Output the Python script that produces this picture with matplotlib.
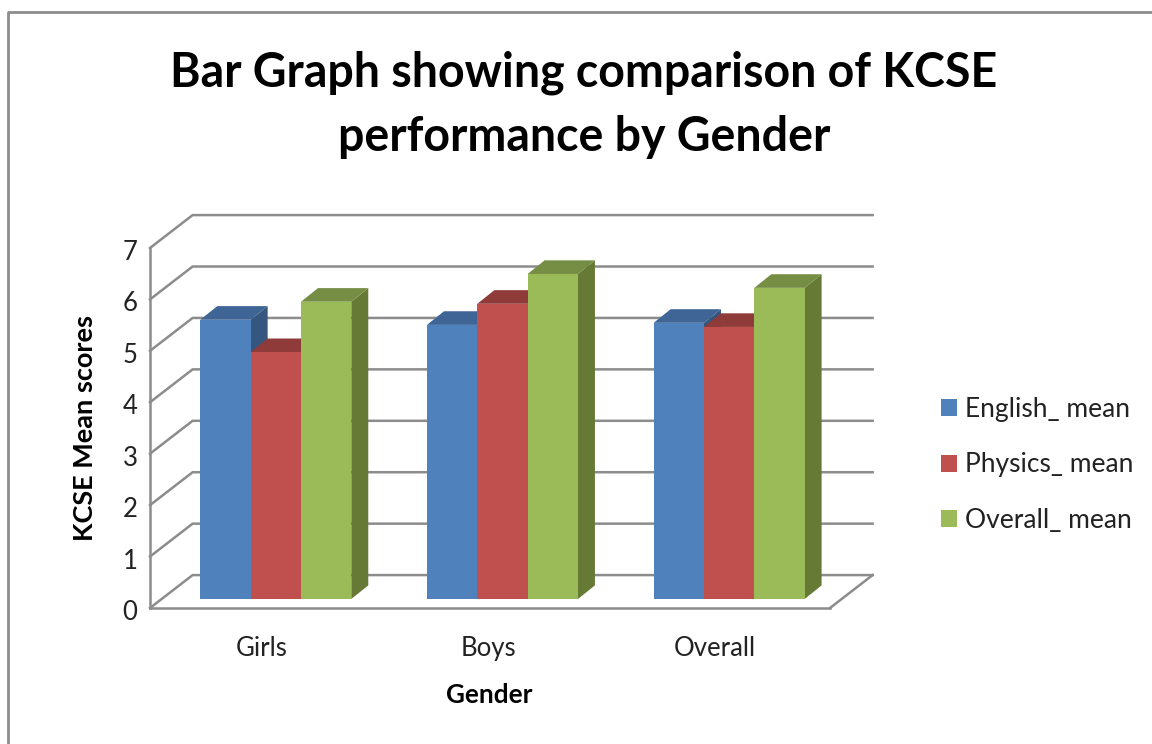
import numpy as np
import matplotlib
matplotlib.use("Agg")
import matplotlib.pyplot as plt
from matplotlib.patches import Rectangle
from matplotlib.transforms import ScaledTranslation

categories = ["Girls", "Boys", "Overall"]
series_names = ["English_ mean", "Physics_ mean", "Overall_ mean"]
english = [5.43, 5.33, 5.37]
physics = [4.80, 5.74, 5.29]
overall = [5.78, 6.32, 6.05]
y_ticks = [0, 1, 2, 3, 4, 5, 6, 7]

front_colors = ["#4F81BD", "#C0504D", "#9BBB59"]
side_colors = ["#34567F", "#7F3634", "#667A35"]
top_colors = ["#3E6595", "#8E3B39", "#758E43"]
grid_color = "#8C8C8C"

W, H = 1152, 744
plt.rcParams["font.family"] = ["Lato", "DejaVu Sans"]

fig = plt.figure(figsize=(W / 100, H / 100), dpi=100)

# front plane of the 3d box, in pixels from top left
x0, x1, y_bot, y_top = 150, 830, 608, 248
ax = fig.add_axes([x0 / W, 1 - y_bot / H, (x1 - x0) / W, (y_bot - y_top) / H])
ax.set_xlim(-0.5, 2.5)
ax.set_ylim(0, 7)

# depth of the box and of the bars, data units
wall_dx, wall_dy = 0.188, 0.64
base_dx, base_dy = 0.055, 0.175
bar_dx, bar_dy = 0.075, 0.265
bar_w = 0.222

# walls
for v in y_ticks:
    ax.plot([-0.5, -0.5 + wall_dx, 2.5 + wall_dx],
            [v, v + wall_dy, v + wall_dy],
            color=grid_color, lw=1.8, clip_on=False, zorder=1)
ax.plot([2.5, 2.5 + wall_dx], [0, wall_dy], color=grid_color, lw=1.8, clip_on=False, zorder=1)

xpos = np.arange(len(categories))
values = [english, physics, overall]

z = 2
for i in range(len(categories)):
    for j, vals in enumerate(values):
        left = xpos[i] + base_dx + (j - 1.5) * bar_w
        right = left + bar_w
        bottom = base_dy
        top = bottom + vals[i]
        # side then top, front goes over them
        ax.fill([right, right + bar_dx, right + bar_dx, right],
                [bottom, bottom + bar_dy, top + bar_dy, top],
                color=side_colors[j], lw=0, clip_on=False, zorder=z)
        ax.fill([left, left + bar_dx, right + bar_dx, right],
                [top, top + bar_dy, top + bar_dy, top],
                color=top_colors[j], lw=0, clip_on=False, zorder=z + 1)
        ax.bar(left, vals[i], width=bar_w, bottom=bottom, align="edge",
               color=front_colors[j], lw=0, zorder=z + 2)
        z += 3

ax.patch.set_visible(False)
for s in ["top", "right"]:
    ax.spines[s].set_visible(False)
for s in ["left", "bottom"]:
    ax.spines[s].set_color(grid_color)
    ax.spines[s].set_linewidth(1.8)
    ax.spines[s].set_zorder(1)

ax.set_xticks(xpos)
ax.set_xticklabels(categories, fontsize=18.5, color="#222222")
ax.set_yticks(y_ticks)
ax.set_yticklabels(y_ticks, fontsize=18.5, color="#222222")
ax.tick_params(axis="both", length=0)
ax.tick_params(axis="x", pad=20)
ax.tick_params(axis="y", pad=9)

# nudge tick labels a couple of pixels
for lab in ax.get_xticklabels():
    lab.set_transform(lab.get_transform() + ScaledTranslation(-2 / 100, 0, fig.dpi_scale_trans))
for lab in ax.get_yticklabels():
    lab.set_transform(lab.get_transform() + ScaledTranslation(0, -2 / 100, fig.dpi_scale_trans))

fig.text(584 / W, 1 - 73 / H, "Bar Graph showing comparison of KCSE", fontsize=33.5,
         fontweight="bold", ha="center", va="center", color="black")
fig.text(584 / W, 1 - 137 / H, "performance by Gender", fontsize=33.5,
         fontweight="bold", ha="center", va="center", color="black")
fig.text(85 / W, 1 - 428 / H, "KCSE Mean scores", fontsize=19.5, fontweight="bold",
         rotation=90, ha="center", va="center", color="black")
fig.text(489 / W, 1 - 695 / H, "Gender", fontsize=18.8, fontweight="bold",
         ha="center", va="center", color="black")

handles = [Rectangle((0, 0), 1, 1, color=c, lw=0) for c in front_colors]
fig.legend(handles, series_names, loc="upper left", bbox_to_anchor=(941 / W, 1 - 397 / H),
           frameon=False, fontsize=19, handlelength=0.61, handleheight=0.61,
           handletextpad=0.3, labelspacing=1.15, labelcolor="#222222",
           borderpad=0, borderaxespad=0)

# outer chart border, runs off the right and bottom of the picture
fig.add_artist(plt.Line2D([8 / W, 8 / W, 1], [0, 1 - 12 / H, 1 - 12 / H],
                          color=grid_color, lw=2, transform=fig.transFigure))

fig.savefig("out.png", dpi=100)
